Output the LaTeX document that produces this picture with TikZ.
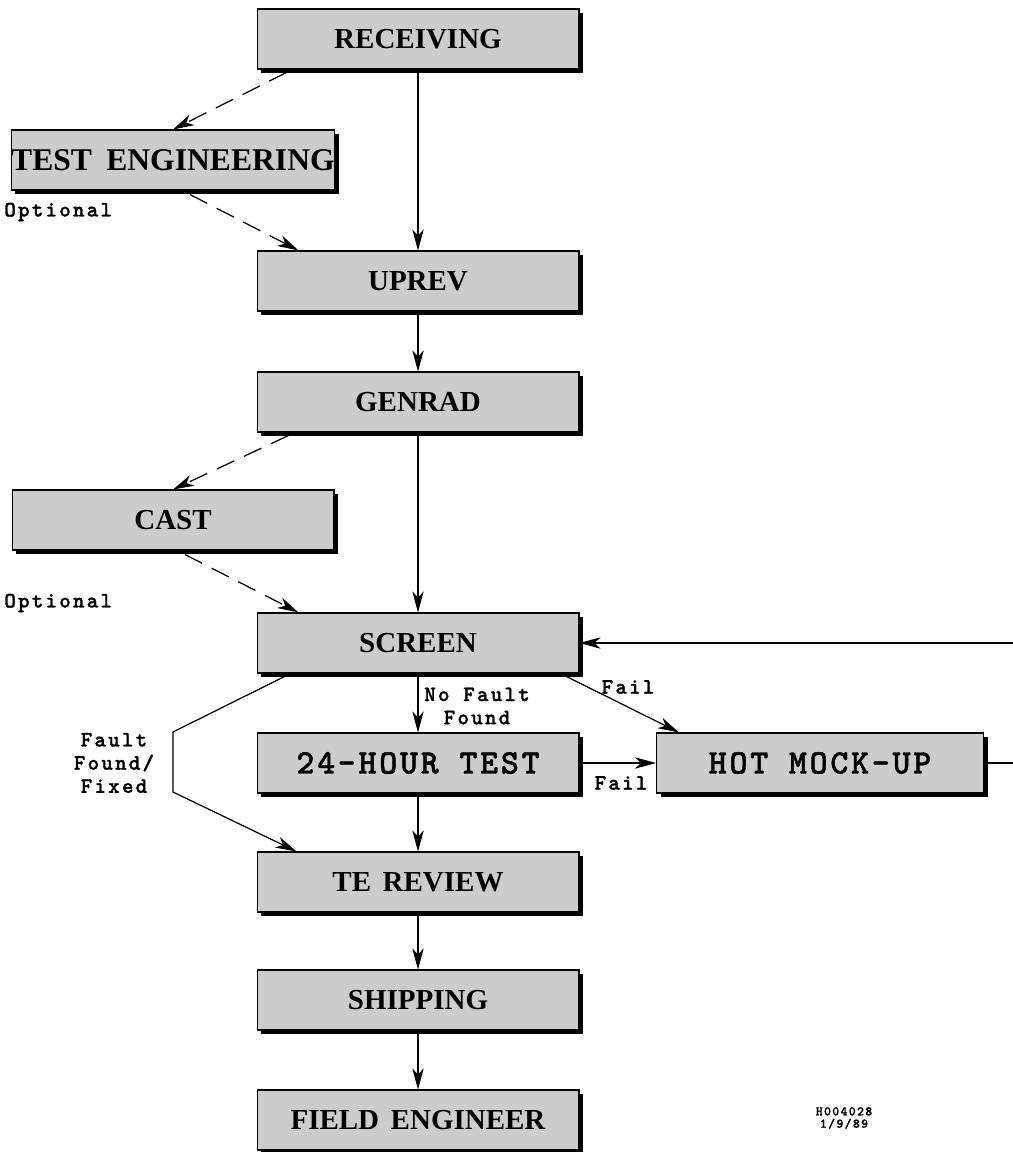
\documentclass[tikz,border=0pt]{standalone}
\usepackage{fontspec}
\setmainfont{Liberation Serif}
\newfontfamily\titlefont{Liberation Serif Bold}
\newfontfamily\lblfont[LetterSpace=10,FakeBold=1.2]{lmmonolt10-bold.otf}
\newfontfamily\boxttfont[LetterSpace=8,FakeBold=1.2]{lmmonolt10-bold.otf}
\usetikzlibrary{arrows.meta,shadows,calc}

\tikzset{
  box/.style={draw, line width=0.6pt, fill=black!20, minimum width=6.44cm, minimum height=1.2cm,
    inner sep=0pt, font=\fontsize{16.5}{18}\selectfont\titlefont,
    drop shadow={shadow xshift=2.3pt, shadow yshift=-2.3pt, fill=black, opacity=1}},
  tbox/.style={box, font=\fontsize{19.5}{22}\selectfont\boxttfont},
  lbl/.style={inner sep=0pt, font=\fontsize{12.5}{13.2}\selectfont\lblfont, align=center},
  arr/.style={line width=0.7pt, -{Stealth[length=12pt,width=6.5pt,inset=3.5pt]}},
  darr/.style={arr, dash pattern=on 11pt off 6pt},
  ln/.style={line width=0.7pt}
}

\begin{document}
\begin{tikzpicture}[x=0.02cm,y=-0.02cm]
\useasboundingbox (0,0) rectangle (1013,1152);

% process boxes
\node[box] (rec) at (418,39) {RECEIVING};
\node[box, font=\fontsize{18}{20}\selectfont\titlefont] (teng) at (173,160) {TEST\hspace{0.45em}ENGINEERING};
\node[box] (uprev) at (418,281) {UPREV};
\node[box] (genrad) at (418,402) {GENRAD};
\node[box] (cast) at (173,520) {CAST};
\node[box] (screen) at (418,643) {SCREEN};
\node[tbox] (hour) at (418,763) {24-HOUR TEST};
\node[tbox, minimum width=6.54cm] (hot) at (820,763) {HOT MOCK-UP};
\node[box] (terev) at (418,882) {TE\hspace{0.4em}REVIEW};
\node[box] (ship) at (418,1000) {SHIPPING};
\node[box] (field) at (418,1120) {FIELD\hspace{0.4em}ENGINEER};

% labels
\node[lbl, anchor=west] (opt1) at (4,212) {Optional};
\node[lbl, anchor=west] (opt2) at (4,603) {Optional};
\node[lbl] (nff) at (477,706) {No Fault\\Found};
\node[lbl] (fail1) at (628,687) {Fail};
\node[lbl] (fail2) at (621,783) {Fail};
\node[lbl] (fff) at (114,763) {Fault\\Found/\\Fixed};
\node[inner sep=0pt, align=center, font=\fontsize{7.5}{7}\selectfont\lblfont] (stamp) at (844,1118) {H004028\\1/9/89};

% bends and loop ends
\coordinate (ff1) at (173,732);
\coordinate (ff2) at (173,792);
\coordinate (loop1) at (1013,643);
\coordinate (loop2) at (1013,763);

% main flow
\draw[arr] (rec) -- (uprev);
\draw[arr] (uprev) -- (genrad);
\draw[arr] (genrad) -- (screen);
\draw[arr] (screen) -- (hour);
\draw[arr] (hour) -- (terev);
\draw[arr] (terev) -- (ship);
\draw[arr] (ship) -- (field);

% optional steps
\draw[darr] ($(rec.south west)+(30,3)$) -- (teng.north);
\draw[darr] ($(teng.south)+(17,4)$) -- ($(uprev.north west)+(42,0)$);
\draw[darr] ($(genrad.south west)+(32,3)$) -- (cast.north);
\draw[darr] ($(cast.south)+(12,4)$) -- ($(screen.north west)+(42,0)$);

% fail paths
\draw[arr] ($(screen.south east)+(-13,3)$) -- ($(hot.north west)+(23,0)$);
\draw[arr] (hour.east) -- (hot.west);
\draw[ln] (hot.east) -- (loop2);
\draw[arr] (loop1) -- (screen.east);
\draw[arr] ($(screen.south west)+(28,3)$) -- (ff1) -- (ff2) -- ($(terev.north west)+(40,0)$);
\end{tikzpicture}
\end{document}
